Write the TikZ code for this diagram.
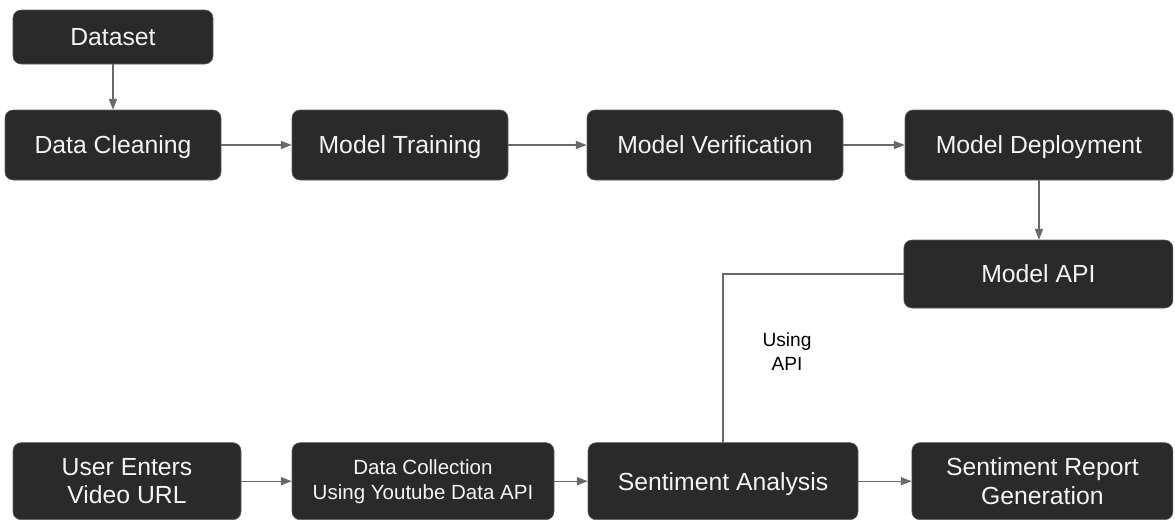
\documentclass[tikz,border=0pt]{standalone}
\usepackage{fontspec}
\setmainfont{Liberation Sans}
\usepackage{xcolor}
\usetikzlibrary{arrows.meta,positioning}
\definecolor{boxdark}{RGB}{42,42,42}
\definecolor{boxedge}{RGB}{95,95,95}
\definecolor{flowgray}{RGB}{105,105,105}
\definecolor{boxtext}{RGB}{245,245,245}

\begin{document}
\begin{tikzpicture}[
    stage/.style={rectangle,rounded corners=0.2cm,draw=boxedge,fill=boxdark,line width=0.4pt,
      align=center,text=boxtext,font=\fontsize{17.6}{20}\selectfont,inner sep=2pt},
    oneline/.style={stage,text height=12.6pt,text depth=0pt},
    smallstage/.style={stage,font=\fontsize{14.6}{17.8}\selectfont},
    flow/.style={-{Triangle[length=0.27cm,width=0.2cm]},line width=0.9pt,draw=flowgray},
    plainflow/.style={line width=0.9pt,draw=flowgray},
    notelabel/.style={font=\fontsize{13.6}{17}\selectfont,align=center,text=black}
  ]
    \useasboundingbox (0,0) rectangle (29.375,-12.975);

    \node[oneline,minimum width=5.0cm,minimum height=1.35cm] (dataset) at (2.825,-0.925) {Dataset};
    \node[oneline,minimum width=5.4cm,minimum height=1.75cm] (clean) at (2.825,-3.625) {Data Cleaning};
    \node[oneline,minimum width=5.4cm,minimum height=1.75cm] (train) at (10.0,-3.625) {Model Training};
    \node[oneline,minimum width=6.4cm,minimum height=1.75cm] (verify) at (17.875,-3.625) {Model Verification};
    \node[oneline,minimum width=6.7cm,minimum height=1.75cm] (deploy) at (25.975,-3.625) {Model Deployment};
    \node[oneline,minimum width=6.725cm,minimum height=1.7cm] (api) at (25.96,-6.85) {Model API};

    \node[stage,minimum width=5.7cm,minimum height=1.925cm] (user) at (3.175,-12.03) {User Enters\\Video URL};
    \node[smallstage,minimum width=6.55cm,minimum height=1.925cm] (collect) at (10.575,-12.03) {Data Collection\\Using Youtube Data API};
    \node[oneline,minimum width=6.75cm,minimum height=1.925cm] (senti) at (18.075,-12.03) {Sentiment Analysis};
    \node[stage,minimum width=6.525cm,minimum height=1.925cm] (report) at (26.06,-12.03) {Sentiment Report\\Generation};

    \node[notelabel] (usingapi) at (19.675,-8.8) {Using\\API};

    \draw[flow] (dataset) -- (clean);
    \draw[flow] (clean) -- (train);
    \draw[flow] (train) -- (verify);
    \draw[flow] (verify) -- (deploy);
    \draw[flow] (deploy.south) -- (deploy.south |- api.north);
    \draw[plainflow] (api.west) -| (senti.north);

    \draw[flow] (user) -- (collect);
    \draw[flow] (collect) -- (senti);
    \draw[flow] (senti) -- (report);
  \end{tikzpicture}
\end{document}
